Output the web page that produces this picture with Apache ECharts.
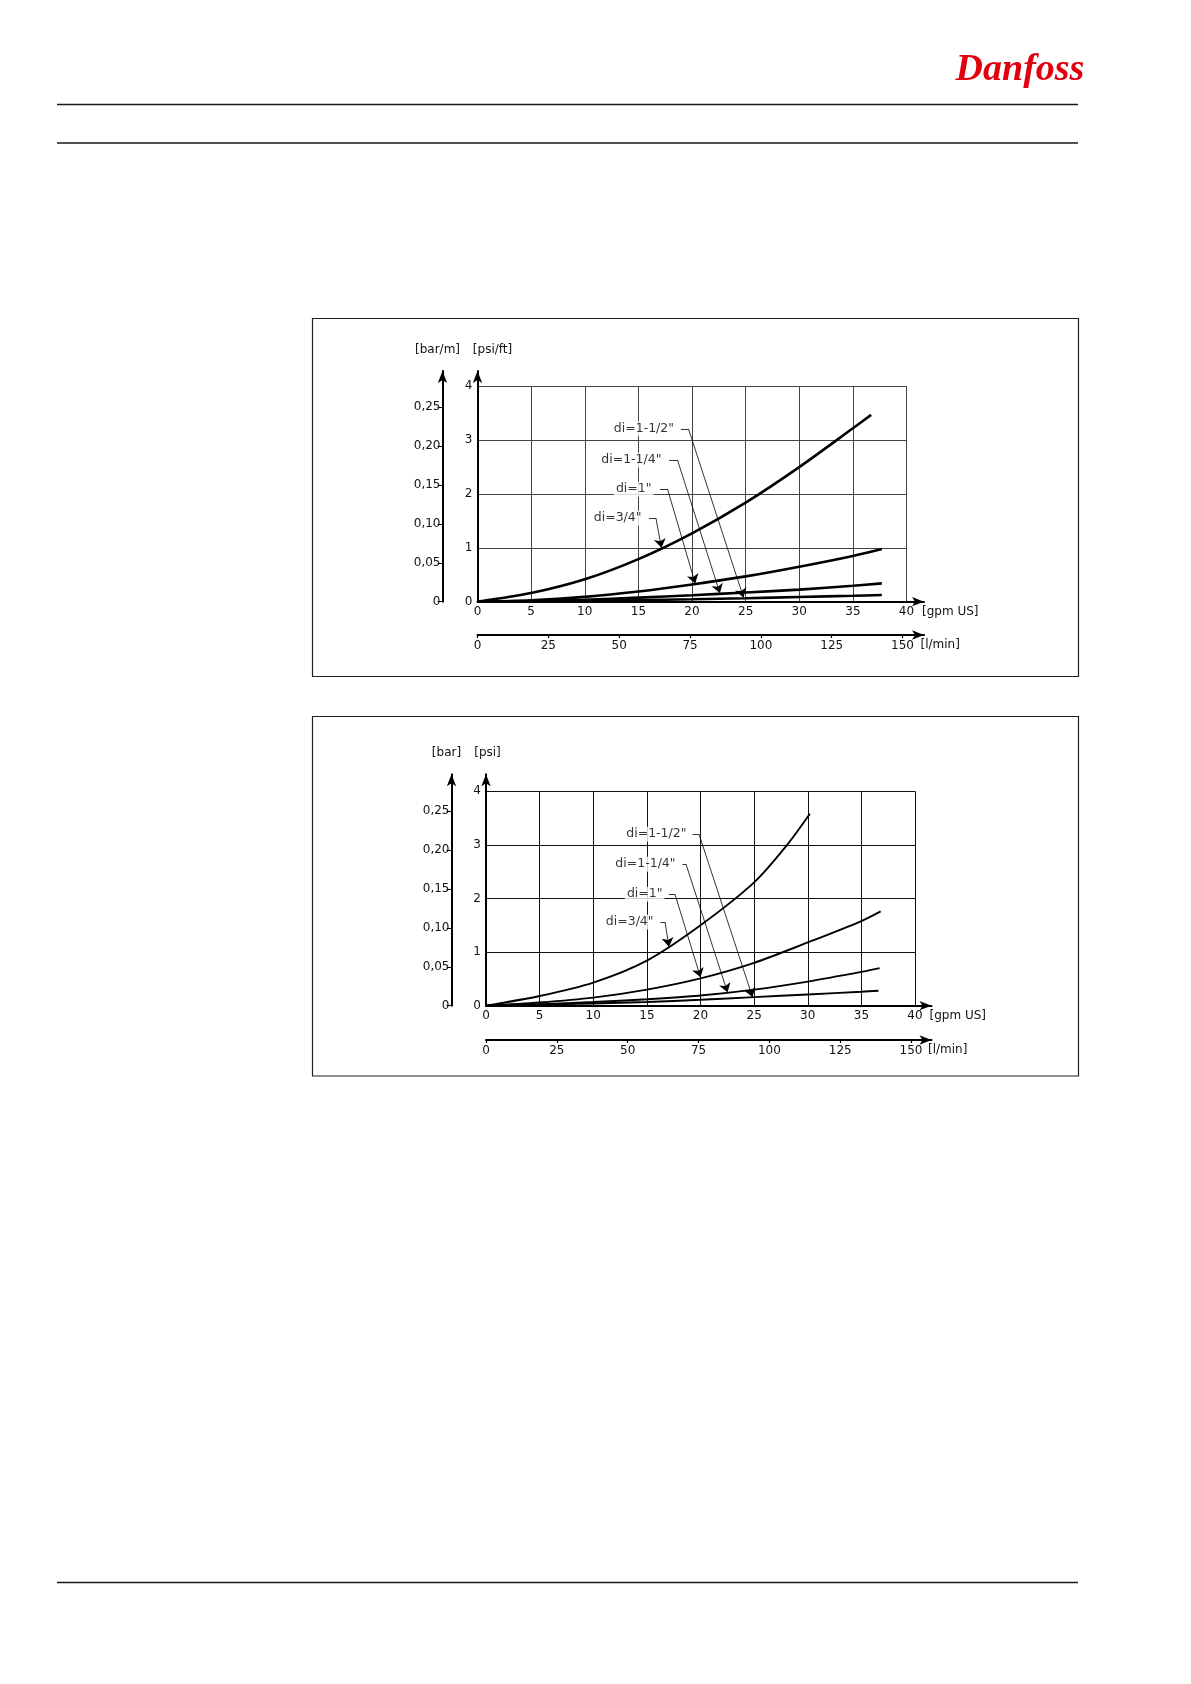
<!DOCTYPE html>
<html><head><meta charset="utf-8">
<script src="https://cdn.jsdelivr.net/npm/echarts@6/dist/echarts.min.js"></script>
<style>html,body{margin:0;padding:0;background:#fff}#c{width:1191px;height:1684px}</style>
</head><body><div id="c"></div><script>
// ---------- data ----------
const gpmTicks = [0,5,10,15,20,25,30,35,40];
const lminTicks = [0,25,50,75,100,125,150];
const psiTicks = [0,1,2,3,4];
const barTicks = [0,0.05,0.10,0.15,0.20,0.25];
const curveNames = ['di=3/4"','di=1"','di=1-1/4"','di=1-1/2"'];

// top chart: pressure drop per length [psi/ft] vs flow [gpm US]
const top34  = [[0,0],[5,0.16],[10,0.415],[15,0.79],[20,1.27],[25,1.84],[30,2.5],[35,3.22],[36.7,3.47]];
const top1   = [[0,0],[5,0.026],[10,0.09],[15,0.19],[20,0.32],[25,0.47],[30,0.65],[35,0.85],[37.7,0.98]];
const top114 = [[0,0],[5,0.01],[10,0.035],[15,0.075],[20,0.12],[25,0.17],[30,0.225],[35,0.295],[37.7,0.34]];
const top112 = [[0,0],[5,0.005],[10,0.015],[15,0.03],[20,0.045],[25,0.065],[30,0.087],[35,0.11],[37.7,0.125]];
const topLabelPos = [[15.62,1.55],[16.55,2.09],[17.48,2.63],[18.65,3.21]];
const topLeaderHead = [[[15.99,1.55],[16.64,1.55]],[[17.02,2.09],[17.72,2.09]],[[17.86,2.63],[18.65,2.63]],[[18.97,3.21],[19.67,3.21]]];
const topLeaderTip = [[17.15,1.0],[20.3,0.34],[22.6,0.16],[24.8,0.08]];

// bottom chart: pressure drop [psi] vs flow [gpm US]
const bot34  = [[0,0],[5,0.18],[10,0.43],[15,0.84],[20,1.5],[25,2.3],[28,2.98],[30.2,3.58]];
const bot1   = [[0,0],[5,0.06],[10,0.15],[15,0.3],[20,0.51],[25,0.8],[30,1.18],[35,1.58],[36.8,1.76]];
const bot114 = [[0,0],[5,0.03],[10,0.07],[15,0.12],[20,0.19],[25,0.3],[30,0.45],[35,0.63],[36.7,0.7]];
const bot112 = [[0,0],[5,0.02],[10,0.04],[15,0.07],[20,0.11],[25,0.16],[30,0.21],[35,0.26],[36.6,0.28]];
const botLabelPos = [[15.95,1.56],[16.78,2.08],[18.0,2.64],[19.02,3.20]];
const botLeaderHead = [[[16.25,1.56],[16.69,1.56]],[[17.06,2.08],[17.62,2.08]],[[18.32,2.64],[18.65,2.64]],[[19.25,3.2],[19.86,3.2]]];
const botLeaderTip = [[17.06,1.1],[20.0,0.53],[22.52,0.25],[24.85,0.16]];

const GPM_MAX = 40, PSI_MAX = 4, BAR_STEP = 0.05, LMIN_PER_GPM = 3.785;

// ---------- layout ----------
const FONT = '"DejaVu Sans", sans-serif';
const layouts = [
  {left:477.5, top:386.3, w:429, h:215.4, extR:17.5, extT:15.3, barOff:35, lminOff:33.3, barPx:38.9,
   lineW:2.6, gridColor:'#444', units:['[bar/m]','[psi/ft]'], psiUnitDx:15},
  {left:486, top:791.3, w:429, h:214.4, extR:16.5, extT:17, barOff:34.5, lminOff:34.3, barPx:38.94,
   lineW:1.9, gridColor:'#111', units:['[bar]','[psi]'], psiUnitDx:1.5}
];
const curveSets = [[top34,top1,top114,top112],[bot34,bot1,bot114,bot112]];
const labelSets = [topLabelPos, botLabelPos];
const headSets = [topLeaderHead, botLeaderHead];
const tipSets = [topLeaderTip, botLeaderTip];

const grids=[], xAxis=[], yAxis=[], series=[], graphic=[];
const txt = () => ({color:'#111', fontFamily:FONT, fontSize:12});
const near = (list,v)=>list.some(t=>Math.abs(t-v)<1e-6);
const fmtBar = v => v===0 ? '0' : v.toFixed(2).replace('.',',');
const arrowLine = () => ({show:true, onZero:false, lineStyle:{color:'#000', width:2}, symbol:['none','arrow'], symbolSize:[7,12]});

layouts.forEach((L,k)=>{
  const gA = grids.length; grids.push({left:L.left, top:L.top, width:L.w, height:L.h});
  const gB = grids.length; grids.push({left:L.left, top:L.top-L.extT, width:L.w+L.extR, height:L.h+L.extT});
  const xMaxB = GPM_MAX*(L.w+L.extR)/L.w;
  const yMaxB = PSI_MAX*(L.h+L.extT)/L.h;
  const barMax = BAR_STEP*(L.h+L.extT)/L.barPx;

  const xA = xAxis.length;
  xAxis.push({gridIndex:gA, type:'value', min:0, max:GPM_MAX, interval:5,
    axisLine:{show:false}, axisTick:{show:false}, axisLabel:{show:false},
    splitLine:{show:true, lineStyle:{color:L.gridColor, width:1}}});
  xAxis.push({gridIndex:gB, type:'value', min:0, max:xMaxB, interval:5, position:'bottom',
    axisLine:arrowLine(), axisTick:{show:false}, splitLine:{show:false},
    axisLabel:Object.assign({customValues:gpmTicks, margin:4, formatter:v=>near(gpmTicks,v)?String(v):''}, txt())});
  xAxis.push({gridIndex:gB, type:'value', min:0, max:xMaxB*LMIN_PER_GPM, interval:25, position:'bottom', offset:L.lminOff,
    axisLine:arrowLine(), axisTick:{show:true, customValues:lminTicks, length:3, lineStyle:{color:'#000',width:1.2}},
    splitLine:{show:false},
    axisLabel:Object.assign({customValues:lminTicks, margin:5, formatter:v=>near(lminTicks,v)?String(v):''}, txt())});

  const yA = yAxis.length;
  yAxis.push({gridIndex:gA, type:'value', min:0, max:PSI_MAX, interval:1,
    axisLine:{show:false}, axisTick:{show:false}, axisLabel:{show:false},
    splitLine:{show:true, lineStyle:{color:L.gridColor, width:1}}});
  yAxis.push({gridIndex:gB, type:'value', min:0, max:yMaxB, interval:1, position:'left',
    axisLine:arrowLine(), axisTick:{show:false}, splitLine:{show:false},
    axisLabel:Object.assign({customValues:psiTicks, margin:5, formatter:v=>near(psiTicks,v)?String(v):''}, txt())});
  yAxis.push({gridIndex:gB, type:'value', min:0, max:barMax, interval:BAR_STEP, position:'left', offset:L.barOff,
    axisLine:arrowLine(), axisTick:{show:true, customValues:barTicks, length:5, lineStyle:{color:'#000',width:1}},
    splitLine:{show:false},
    axisLabel:Object.assign({customValues:barTicks, margin:2, formatter:v=>near(barTicks,v)?fmtBar(v):''}, txt())});

  curveSets[k].forEach((d,i)=>{
    series.push({type:'line', name:curveNames[i], xAxisIndex:xA, yAxisIndex:yA, data:d,
      smooth:0.3,
      showSymbol:false, symbol:'none', lineStyle:{color:'#000', width:L.lineW}, z:3, silent:true});
  });
  // leader lines: short horizontal part, then diagonal with arrow head
  series.push({type:'lines', coordinateSystem:'cartesian2d', xAxisIndex:xA, yAxisIndex:yA,
    symbol:['none','none'], silent:true, z:4,
    lineStyle:{color:'#000', width:0.8, opacity:1},
    data:headSets[k].map(c=>({coords:c}))});
  series.push({type:'lines', coordinateSystem:'cartesian2d', xAxisIndex:xA, yAxisIndex:yA,
    symbol:['none','arrow'], symbolSize:[1,9], silent:true, z:4,
    lineStyle:{color:'#000', width:0.8, opacity:1},
    data:headSets[k].map((c,i)=>({coords:[c[1], tipSets[k][i]]}))});
  series.push({type:'scatter', xAxisIndex:xA, yAxisIndex:yA, symbolSize:1, silent:true, z:6,
    itemStyle:{color:'rgba(0,0,0,0)'},
    label:{show:true, position:'left', distance:1, formatter:'{b}', color:'#000', fontFamily:FONT, fontSize:12.5,
      backgroundColor:'#fff', padding:[1,2]},
    data:labelSets[k].map((p,i)=>({name:curveNames[i], value:p}))});

  // unit captions
  const axisTopY = L.top - L.extT - 21;
  const bottomY = L.top + L.h;
  graphic.push({type:'text', x:L.left-L.barOff-5, y:axisTopY, style:{text:L.units[0], font:'12px '+FONT, fill:'#111', align:'center', verticalAlign:'middle'}});
  graphic.push({type:'text', x:L.left+L.psiUnitDx, y:axisTopY, style:{text:L.units[1], font:'12px '+FONT, fill:'#111', align:'center', verticalAlign:'middle'}});
  graphic.push({type:'text', x:L.left+L.w+L.extR-2, y:bottomY+10, style:{text:'[gpm US]', font:'12px '+FONT, fill:'#111', align:'left', verticalAlign:'middle'}});
  graphic.push({type:'text', x:L.left+L.w+L.extR-3.5, y:bottomY+L.lminOff+10, style:{text:'[l/min]', font:'12px '+FONT, fill:'#111', align:'left', verticalAlign:'middle'}});
});

// page furniture
graphic.push(
  {type:'line', shape:{x1:57,y1:104.5,x2:1078,y2:104.5}, style:{stroke:'#1a1a1a', lineWidth:1.3}},
  {type:'line', shape:{x1:57,y1:143,x2:1078,y2:143}, style:{stroke:'#1a1a1a', lineWidth:1.3}},
  {type:'line', shape:{x1:57,y1:1582.5,x2:1078,y2:1582.5}, style:{stroke:'#1a1a1a', lineWidth:1.3}},
  {type:'rect', shape:{x:312.5,y:318.5,width:766,height:358}, style:{stroke:'#222', fill:'none', lineWidth:1.2}},
  {type:'rect', shape:{x:312.5,y:716.5,width:766,height:359.5}, style:{stroke:'#222', fill:'none', lineWidth:1.2}},
  {type:'text', x:1020, y:70, style:{text:'Danfoss', font:'italic bold 38px "Liberation Serif", serif', fill:'#e2000f', align:'center', verticalAlign:'middle'}}
);

const chart = echarts.init(document.getElementById('c'), null, {renderer:'canvas'});
chart.setOption({animation:false, backgroundColor:'#fff', grid:grids, xAxis, yAxis, series, graphic});
</script></body></html>
